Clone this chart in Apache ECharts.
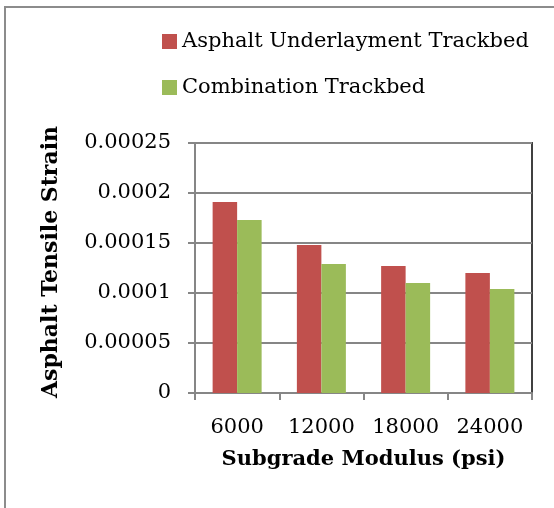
<!DOCTYPE html>
<html><head><meta charset="utf-8">
<script src="https://cdn.jsdelivr.net/npm/echarts@6/dist/echarts.min.js"></script>
<style>html,body{margin:0;padding:0;background:#fff}#c{width:554px;height:508px}</style>
</head><body><div id="c"></div>
<script>
const categories = ['6000', '12000', '18000', '24000'];
const asphaltUnderlayment = [0.000191, 0.000148, 0.000127, 0.000120];
const combination = [0.000173, 0.000129, 0.000110, 0.000104];
const yTicks = [0, 0.00005, 0.0001, 0.00015, 0.0002, 0.00025];
const yTickLabels = ['0', '0.00005', '0.0001', '0.00015', '0.0002', '0.00025'];
const seriesNames = ['Asphalt Underlayment Trackbed', 'Combination Trackbed'];

const FONT = 'DejaVu Serif';
const chart = echarts.init(document.getElementById('c'), null, {renderer: 'canvas'});
chart.setOption({
  animation: false,
  backgroundColor: '#fff',
  legend: {
    orient: 'vertical',
    left: 157, top: 26,
    itemWidth: 15, itemHeight: 15, itemGap: 25,
    icon: 'rect',
    textStyle: {fontFamily: FONT, fontSize: 21, color: '#000'},
    data: seriesNames
  },
  grid: {left: 195, top: 143, width: 337, height: 250, show: true, borderColor: '#404040', borderWidth: 2, backgroundColor: 'transparent'},
  xAxis: {
    type: 'category', data: categories,
    axisLine: {lineStyle: {color: '#868686', width: 2}},
    axisTick: {show: true, length: 7, lineStyle: {color: '#868686', width: 2}},
    axisLabel: {fontFamily: FONT, fontSize: 21, color: '#000', margin: 24, interval: 0},
    name: 'Subgrade Modulus (psi)', nameLocation: 'middle', nameGap: 56,
    nameTextStyle: {fontFamily: FONT, fontSize: 21, fontWeight: 'bold', color: '#000'}
  },
  yAxis: {
    type: 'value', min: 0, max: 0.00025, interval: 0.00005,
    axisLine: {show: true, lineStyle: {color: '#868686', width: 2}},
    axisTick: {show: true, length: 7, lineStyle: {color: '#868686', width: 2}},
    splitLine: {lineStyle: {color: '#868686', width: 2}},
    axisLabel: {fontFamily: FONT, fontSize: 21, color: '#000', margin: 24,
      formatter: v => { const i = yTicks.findIndex(t => Math.abs(t - v) < 1e-9); return i >= 0 ? yTickLabels[i] : ''; }}
  },
  series: [
    {name: seriesNames[0], type: 'bar', data: asphaltUnderlayment, barWidth: 24.5, barGap: '0%', itemStyle: {color: '#C0504D'}},
    {name: seriesNames[1], type: 'bar', data: combination, barWidth: 24.5, barGap: '0%', itemStyle: {color: '#9BBB59'}}
  ],
  graphic: [
    {type: 'rect', shape: {x: 5, y: 7, width: 600, height: 600}, style: {fill: 'none', stroke: '#8c8c8c', lineWidth: 2}, silent: true, z: -1},
    {type: 'text', x: 51, y: 262, rotation: Math.PI/2, style: {text: 'Asphalt Tensile Strain', fontFamily: FONT, fontSize: 22, fontWeight: 'bold', fill: '#000', align: 'center', verticalAlign: 'middle'}}
  ]
});
</script></body></html>
